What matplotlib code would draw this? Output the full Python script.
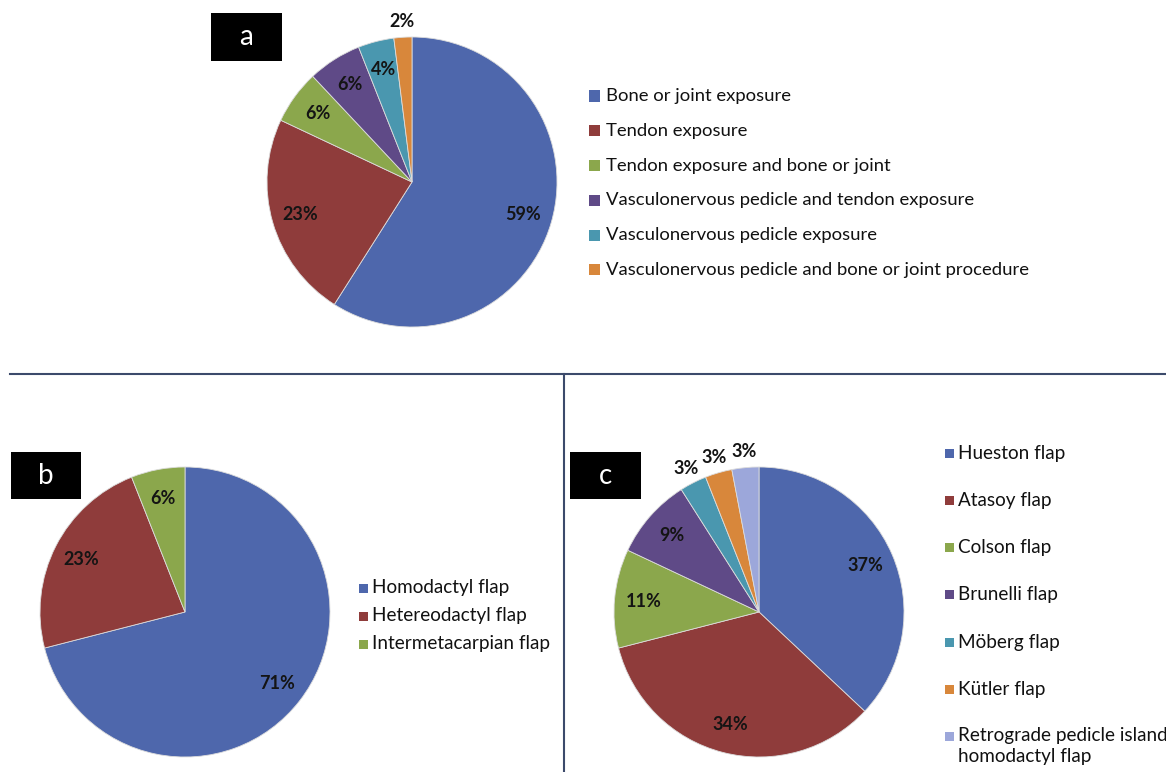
import numpy as np
import matplotlib
matplotlib.use("Agg")
import matplotlib.pyplot as plt
from matplotlib.patches import Rectangle

plt.rcParams['font.family'] = ['Lato', 'DejaVu Sans']

# (a) indications
a_labels = ["Bone or joint exposure", "Tendon exposure",
            "Tendon exposure and bone or joint",
            "Vasculonervous pedicle and tendon exposure",
            "Vasculonervous pedicle exposure",
            "Vasculonervous pedicle and bone or joint procedure"]
a_values = [59, 23, 6, 6, 4, 2]

# (b) flap origin
b_labels = ["Homodactyl flap", "Hetereodactyl flap", "Intermetacarpian flap"]
b_values = [71, 23, 6]

# (c) flap type
c_labels = ["Hueston flap", "Atasoy flap", "Colson flap", "Brunelli flap",
            "Möberg flap", "Kütler flap",
            "Retrograde pedicle island\nhomodactyl flap"]
c_values = [37, 34, 11, 9, 3, 3, 3]

palette = ['#4E67AC', '#8F3C3B', '#8BA74C', '#5F4A87', '#4A97AF', '#D8873B', '#9CA7DA']

W, H = 1166, 772
fig = plt.figure(figsize=(W / 100, H / 100), dpi=100)
fig.patch.set_facecolor('white')


def fx(x):
    return x / W


def fy(y):
    return 1 - y / H


def draw_pie(cx, cy, r, values):
    ax = fig.add_axes([fx(cx - r), fy(cy + r), 2 * r / W, 2 * r / H])
    wedges, _ = ax.pie(values, colors=palette[:len(values)], startangle=90,
                       counterclock=False,
                       wedgeprops=dict(edgecolor='#dcdcdc', linewidth=0.6))
    ax.set_xlim(-1, 1)
    ax.set_ylim(-1, 1)
    for w, v in zip(wedges, values):
        ang = np.deg2rad((w.theta1 + w.theta2) / 2)
        d = 1.11 if v <= 3 else 0.8
        ax.text(d * np.cos(ang), d * np.sin(ang), f"{v}%", ha='center',
                va='center', fontsize=13, fontweight='bold', color='#141414',
                clip_on=False)
    return ax


def draw_key(x_sq, x_txt, y0, step, labels, size, fs):
    for i, lab in enumerate(labels):
        y = y0 + i * step
        fig.add_artist(Rectangle((fx(x_sq), fy(y + size / 2)), size / W, size / H,
                                 transform=fig.transFigure,
                                 facecolor=palette[i], edgecolor='none'))
        if '\n' in lab:
            fig.text(fx(x_txt), fy(y - fs * 0.75), lab, ha='left', va='top',
                     fontsize=fs, color='#111111', linespacing=1.3)
        else:
            fig.text(fx(x_txt), fy(y), lab, ha='left', va='center',
                     fontsize=fs, color='#111111')


def draw_tag(x0, y0, x1, y1, letter):
    fig.add_artist(Rectangle((fx(x0), fy(y1)), (x1 - x0) / W, (y1 - y0) / H,
                             transform=fig.transFigure, facecolor='black',
                             edgecolor='none'))
    fig.text(fx((x0 + x1) / 2), fy((y0 + y1) / 2), letter, ha='center',
             va='center', fontsize=20, color='white')


# panel dividers
fig.add_artist(plt.Line2D([fx(10), fx(1166)], [fy(374), fy(374)],
                          transform=fig.transFigure, color='#3c4a6b', lw=1.5))
fig.add_artist(plt.Line2D([fx(564), fx(564)], [fy(374), fy(772)],
                          transform=fig.transFigure, color='#3c4a6b', lw=1.5))

draw_pie(412, 182, 145, a_values)
draw_tag(211, 13, 282, 61, 'a')
draw_key(589, 606, 96, 34.8, a_labels, 11, 13.3)

draw_pie(185, 612, 145, b_values)
draw_tag(11, 452, 81, 499, 'b')
draw_key(359, 372, 588, 28, b_labels, 9, 13.6)

draw_pie(759, 612, 145, c_values)
draw_tag(570, 452, 641, 499, 'c')
draw_key(945, 958, 453, 47.3, c_labels, 9, 13.6)

fig.savefig('out.png', dpi=100)
